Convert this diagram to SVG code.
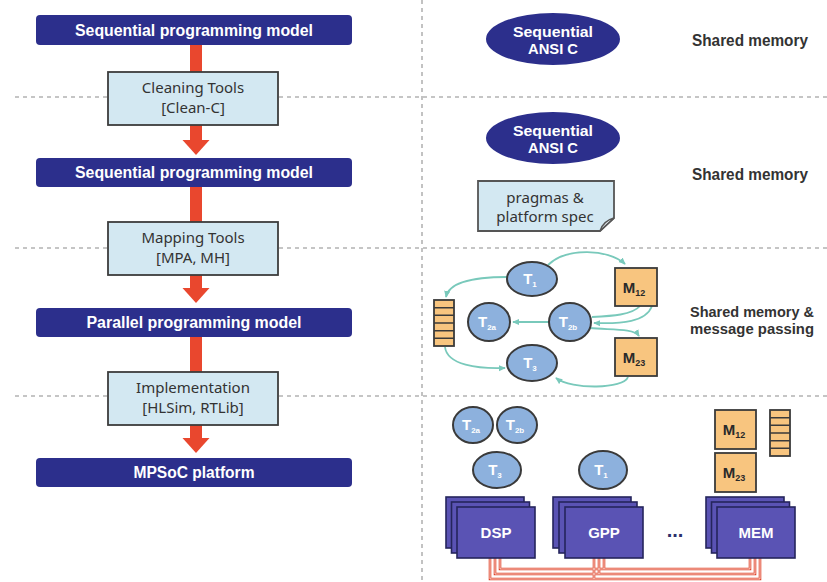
<svg xmlns="http://www.w3.org/2000/svg" width="827" height="582" viewBox="0 0 827 582">
  <defs>
    <style>
      .dash { stroke: #b3b3b3; stroke-width: 1.6; stroke-dasharray: 4 4; fill: none; }
      .model rect { fill: #2c2f8c; }
      .model text { fill: #ffffff; font-family: "Liberation Sans", Arial, sans-serif; font-weight: bold; font-size: 16px; text-anchor: middle; }
      .tool rect { fill: #d3e8f2; stroke: #3c3c3c; stroke-width: 1.8; }
      .tool text, .note text { fill: #333333; font-family: "Noto Sans", "Open Sans", sans-serif; font-size: 15px; text-anchor: middle; }
      .flow { fill: #e9472e; }
      .lang ellipse { fill: #2c2f8c; }
      .lang text { fill: #ffffff; font-family: "Liberation Sans", Arial, sans-serif; font-weight: bold; font-size: 15px; text-anchor: middle; }
      .label { fill: #333333; font-family: "Liberation Sans", Arial, sans-serif; font-weight: bold; font-size: 17px; }
      .label.small { font-size: 15px; }
      .task ellipse { fill: #8db1dd; stroke: #3a3a3a; stroke-width: 2; }
      .task text { fill: #ffffff; font-family: "Liberation Sans", Arial, sans-serif; font-weight: bold; font-size: 15px; text-anchor: middle; }
      .task tspan.sub { font-size: 8px; }
      .mem rect { fill: #f8c57f; stroke: #3a3a3a; stroke-width: 1.8; }
      .mem text { fill: #2a2a2a; font-family: "Liberation Sans", Arial, sans-serif; font-weight: bold; font-size: 15px; text-anchor: middle; }
      .mem tspan.sub { font-size: 9px; }
      .queue rect { fill: #f8c57f; stroke: #3a3a3a; stroke-width: 1.8; }
      .queue path { stroke: #3a3a3a; stroke-width: 1.4; fill: none; }
      .link { stroke: #79c9bb; stroke-width: 1.8; fill: none; }
      .pe rect { fill: #5a53b4; stroke: #25255c; stroke-width: 1.6; }
      .pe text { fill: #ffffff; font-family: "Liberation Sans", Arial, sans-serif; font-weight: bold; font-size: 15px; text-anchor: middle; }
      .bus-outer { stroke: #e0442b; stroke-width: 2.6; fill: none; }
      .bus-inner { stroke: #fff4f0; stroke-width: 0.8; fill: none; }
    </style>
    <marker id="tip" viewBox="0 0 8 8" refX="7" refY="4" markerWidth="7" markerHeight="7" markerUnits="userSpaceOnUse" orient="auto">
      <path d="M0,0.5 L8,4 L0,7.5 Z" fill="#79c9bb"/>
    </marker>
  </defs>

  <rect width="827" height="582" fill="#ffffff"/>

  <!-- section separators -->
  <g id="separators">
    <line class="dash" x1="15" y1="97" x2="827" y2="97"/>
    <line class="dash" x1="15" y1="248" x2="827" y2="248"/>
    <line class="dash" x1="15" y1="396" x2="827" y2="396"/>
    <line class="dash" x1="422" y1="0" x2="422" y2="582"/>
  </g>

  <!-- flow arrows of the tool chain -->
  <g id="flow-arrows">
    <rect class="flow" x="190" y="45" width="12" height="96"/>
    <polygon class="flow" points="182.5,140 209.5,140 196,155"/>
    <rect class="flow" x="190" y="187" width="12" height="102"/>
    <polygon class="flow" points="182.5,288 209.5,288 196,303"/>
    <rect class="flow" x="190" y="337" width="12" height="102"/>
    <polygon class="flow" points="182.5,438 209.5,438 196,453"/>
  </g>

  <!-- programming models -->
  <g id="model-seq-1" class="model">
    <rect x="36" y="15" width="316" height="30" rx="4"/>
    <text x="194" y="36" textLength="238" lengthAdjust="spacingAndGlyphs">Sequential programming model</text>
  </g>
  <g id="model-seq-2" class="model">
    <rect x="36" y="158" width="316" height="29" rx="4"/>
    <text x="194" y="178" textLength="238" lengthAdjust="spacingAndGlyphs">Sequential programming model</text>
  </g>
  <g id="model-par" class="model">
    <rect x="36" y="308" width="316" height="29" rx="4"/>
    <text x="194" y="328" textLength="215" lengthAdjust="spacingAndGlyphs">Parallel programming model</text>
  </g>
  <g id="model-mpsoc" class="model">
    <rect x="36" y="458" width="316" height="29" rx="4"/>
    <text x="194" y="478" textLength="121" lengthAdjust="spacingAndGlyphs">MPSoC platform</text>
  </g>

  <!-- tools -->
  <g id="tool-cleaning" class="tool">
    <rect x="108" y="72" width="170" height="53"/>
    <text x="193" y="93">Cleaning Tools</text>
    <text x="193" y="113">[Clean-C]</text>
  </g>
  <g id="tool-mapping" class="tool">
    <rect x="108" y="222" width="170" height="53"/>
    <text x="193" y="243">Mapping Tools</text>
    <text x="193" y="263">[MPA, MH]</text>
  </g>
  <g id="tool-impl" class="tool">
    <rect x="108" y="372" width="170" height="53"/>
    <text x="193" y="393">Implementation</text>
    <text x="193" y="413">[HLSim, RTLib]</text>
  </g>

  <!-- source representations -->
  <g id="ansi-c-1" class="lang">
    <ellipse cx="553" cy="39" rx="67" ry="26"/>
    <text x="553" y="37" textLength="80" lengthAdjust="spacingAndGlyphs">Sequential</text>
    <text x="553" y="54" textLength="50" lengthAdjust="spacingAndGlyphs">ANSI C</text>
  </g>
  <g id="ansi-c-2" class="lang">
    <ellipse cx="553" cy="138" rx="67" ry="26"/>
    <text x="553" y="136" textLength="80" lengthAdjust="spacingAndGlyphs">Sequential</text>
    <text x="553" y="153" textLength="50" lengthAdjust="spacingAndGlyphs">ANSI C</text>
  </g>
  <g id="pragmas" class="note">
    <path d="M478,181 H614 V218 L600,231 H478 Z" fill="#d3e8f2" stroke="#555555" stroke-width="1.8"/>
    <path d="M600,231 Q603,221 614,218 Q605,226 600,231 Z" fill="#eef6fa" stroke="#555555" stroke-width="1.4"/>
    <text x="545" y="203">pragmas &amp;</text>
    <text x="545" y="222">platform spec</text>
  </g>

  <!-- memory model labels -->
  <g id="labels">
    <text class="label" x="692" y="46" textLength="116" lengthAdjust="spacingAndGlyphs">Shared memory</text>
    <text class="label" x="692" y="180" textLength="116" lengthAdjust="spacingAndGlyphs">Shared memory</text>
    <text class="label small" x="690" y="317" textLength="124" lengthAdjust="spacingAndGlyphs">Shared memory &amp;</text>
    <text class="label small" x="690" y="334" textLength="124" lengthAdjust="spacingAndGlyphs">message passing</text>
  </g>

  <!-- parallel task graph connectors -->
  <g id="connectors">
    <path class="link" d="M548,265 C565,248 608,248 625,264" marker-end="url(#tip)"/>
    <path class="link" d="M507,277 C475,277 449,282 446,297" marker-end="url(#tip)"/>
    <path class="link" d="M640,306 C632,315 612,316 592,317"/>
    <path class="link" d="M652,306 C646,322 622,324 594,323" marker-end="url(#tip)"/>
    <path class="link" d="M590,328 C610,330 634,328 639,336" marker-end="url(#tip)"/>
    <path class="link" d="M549,322 L513,322" marker-end="url(#tip)"/>
    <path class="link" d="M445,347 C447,365 478,369 505,368" marker-end="url(#tip)"/>
    <path class="link" d="M628,377 C624,389 572,390 556,378" marker-end="url(#tip)"/>
  </g>

  <!-- parallel task graph -->
  <g id="queue-1" class="queue">
    <rect x="434" y="300" width="20" height="46"/>
    <path d="M434,307.7 H454 M434,315.3 H454 M434,323 H454 M434,330.7 H454 M434,338.3 H454"/>
  </g>
  <g id="task-t1" class="task">
    <ellipse cx="532" cy="279" rx="25" ry="17"/>
    <text x="530" y="284">T<tspan class="sub" dy="3">1</tspan></text>
  </g>
  <g id="task-t2a" class="task">
    <ellipse cx="489" cy="322" rx="21" ry="19"/>
    <text x="487" y="327">T<tspan class="sub" dy="3">2a</tspan></text>
  </g>
  <g id="task-t2b" class="task">
    <ellipse cx="570" cy="322" rx="21" ry="19"/>
    <text x="568" y="327">T<tspan class="sub" dy="3">2b</tspan></text>
  </g>
  <g id="task-t3" class="task">
    <ellipse cx="532" cy="363" rx="25" ry="18"/>
    <text x="530" y="368">T<tspan class="sub" dy="3">3</tspan></text>
  </g>
  <g id="mem-m12" class="mem">
    <rect x="615" y="268" width="42" height="38"/>
    <text x="634" y="293">M<tspan class="sub" dy="3">12</tspan></text>
  </g>
  <g id="mem-m23" class="mem">
    <rect x="615" y="338" width="42" height="38"/>
    <text x="634" y="363">M<tspan class="sub" dy="3">23</tspan></text>
  </g>

  <!-- mapping onto the platform -->
  <g id="map-t2a" class="task">
    <ellipse cx="473" cy="425" rx="20" ry="18"/>
    <text x="471" y="430">T<tspan class="sub" dy="3">2a</tspan></text>
  </g>
  <g id="map-t2b" class="task">
    <ellipse cx="517" cy="425" rx="20" ry="18"/>
    <text x="515" y="430">T<tspan class="sub" dy="3">2b</tspan></text>
  </g>
  <g id="map-t3" class="task">
    <ellipse cx="497" cy="470" rx="24" ry="18"/>
    <text x="495" y="475">T<tspan class="sub" dy="3">3</tspan></text>
  </g>
  <g id="map-t1" class="task">
    <ellipse cx="603" cy="470" rx="24" ry="19"/>
    <text x="601" y="475">T<tspan class="sub" dy="3">1</tspan></text>
  </g>
  <g id="map-m12" class="mem">
    <rect x="715" y="410" width="41" height="39"/>
    <text x="734" y="435">M<tspan class="sub" dy="3">12</tspan></text>
  </g>
  <g id="map-m23" class="mem">
    <rect x="715" y="453" width="41" height="39"/>
    <text x="734" y="478">M<tspan class="sub" dy="3">23</tspan></text>
  </g>
  <g id="queue-2" class="queue">
    <rect x="770" y="410" width="20" height="46"/>
    <path d="M770,417.7 H790 M770,425.3 H790 M770,433 H790 M770,440.7 H790 M770,448.3 H790"/>
  </g>

  <!-- interconnect -->
  <g id="bus">
    <path class="bus-outer" d="M490,558 V579 H760 V558 M594,558 V579"/>
    <path class="bus-outer" d="M495,558 V574 H755 V558 M599,558 V574"/>
    <path class="bus-outer" d="M500,558 V569 H750 V558 M604,558 V569"/>
    <path class="bus-inner" d="M490,558 V579 H760 V558 M594,558 V579"/>
    <path class="bus-inner" d="M495,558 V574 H755 V558 M599,558 V574"/>
    <path class="bus-inner" d="M500,558 V569 H750 V558 M604,558 V569"/>
  </g>

  <!-- processing elements -->
  <g id="pe-dsp" class="pe">
    <rect x="446" y="497" width="78" height="51"/>
    <rect x="451.5" y="502" width="78" height="51"/>
    <rect x="457" y="507" width="78" height="51"/>
    <text x="496" y="538">DSP</text>
  </g>
  <g id="pe-gpp" class="pe">
    <rect x="553" y="497" width="78" height="51"/>
    <rect x="559" y="502" width="78" height="51"/>
    <rect x="565" y="507" width="78" height="51"/>
    <text x="604" y="538">GPP</text>
  </g>
  <g id="pe-mem" class="pe">
    <rect x="706" y="497" width="78" height="51"/>
    <rect x="711.5" y="502" width="78" height="51"/>
    <rect x="717" y="507" width="78" height="51"/>
    <text x="756" y="538">MEM</text>
  </g>
  <text x="675" y="537" fill="#2c2f6c" font-family="Liberation Sans, Arial, sans-serif" font-weight="bold" font-size="20" text-anchor="middle">...</text>
</svg>
